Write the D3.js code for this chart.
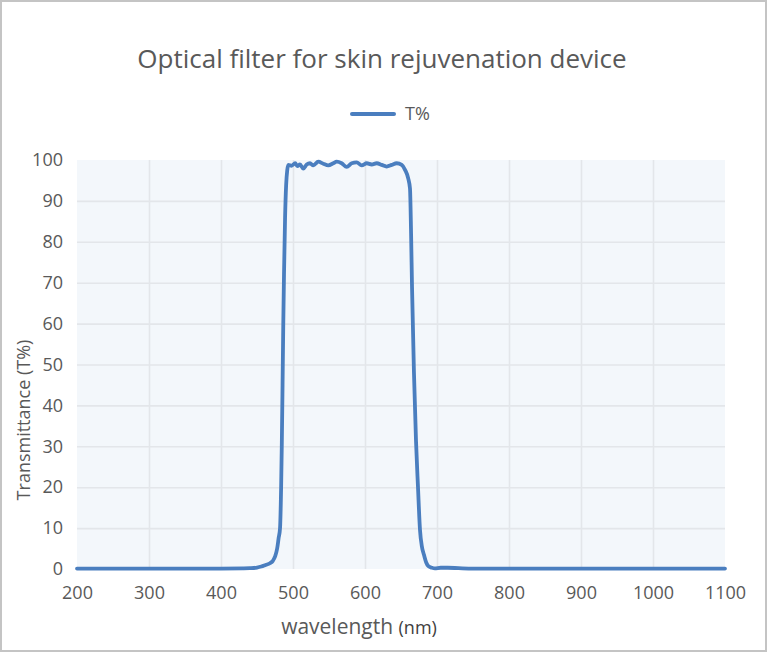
<!DOCTYPE html>
<html>
<head>
<meta charset="utf-8">
<script src="https://cdn.jsdelivr.net/npm/d3@7"></script>
<style>
html,body{margin:0;padding:0;background:#fff;}
svg{display:block;}
text{font-family:"Open Sans","Noto Sans",sans-serif;}
</style>
</head>
<body>
<svg id="chart" width="767" height="652"></svg>
<script>
const wavelength = [200,300,400,430,440,450,456,462,468,472,475,478,480,482,483.5,484.5,485.5,486.5,487.5,489,490.5,492,493.5,
  498,503,506,509.7,514.3,519,523.6,528.2,535.1,542.1,549,556,560.7,567.6,574.6,581.5,588.5,595.4,602.4,609.3,616.3,623.2,630.1,637.1,644,651,655.6,
  660,662.5,664,665.3,668,670.8,673.6,676.4,679,682,685,688,693,697,705,715,730,750,800,900,1000,1100];
const transmittance = [0.1,0.1,0.1,0.15,0.2,0.35,0.6,1.0,1.4,2.0,3.0,5.0,7.5,10,20,31,45,60,72,86,94,97.5,98.8,
  98.6,99.2,98.5,98.9,97.9,98.9,99.2,98.7,99.6,99.1,98.7,99.2,99.6,99.2,98.3,99.2,99.4,98.7,99.2,98.9,99.2,98.8,98.4,98.8,99.2,98.8,97.6,
  95.5,93,82,69,48,31.5,20,9.5,5.5,3.4,1.6,0.7,0.3,0.15,0.3,0.3,0.2,0.1,0.1,0.1,0.1,0.1];
const xTicks = [200,300,400,500,600,700,800,900,1000,1100];
const yTicks = [0,10,20,30,40,50,60,70,80,90,100];

const svg = d3.select("#chart");
const W = 767, H = 652;
const m = {left:77, right:42, top:160, bottom:83};
const x = d3.scaleLinear().domain([200,1100]).range([m.left, W - m.right]);
const y = d3.scaleLinear().domain([0,100]).range([H - m.bottom, m.top]);

// outer border
svg.append("rect").attr("x",1).attr("y",1).attr("width",W-2).attr("height",H-2)
  .attr("fill","#fff").attr("stroke","#c4c4c4").attr("stroke-width",2);

// plot background
svg.append("rect").attr("x",x(200)).attr("y",y(100)).attr("width",x(1100)-x(200)).attr("height",y(0)-y(100))
  .attr("fill","#f3f7fb");

// grid
const grid = svg.append("g");
grid.append("g").attr("transform",`translate(0,${y(0)})`)
  .call(d3.axisBottom(x).tickValues(xTicks.slice(1,-1)).tickSize(-(y(0)-y(100))).tickFormat(""))
  .call(g=>g.select(".domain").remove())
  .call(g=>g.selectAll("line").attr("stroke","#e3e6ea").attr("stroke-width",1.6));
grid.append("g").attr("transform",`translate(${x(200)},0)`)
  .call(d3.axisLeft(y).tickValues(yTicks.slice(1,-1)).tickSize(-(x(1100)-x(200))).tickFormat(""))
  .call(g=>g.select(".domain").remove())
  .call(g=>g.selectAll("line").attr("stroke","#e3e6ea").attr("stroke-width",1.6));

// axes labels
const xa = svg.append("g").attr("transform",`translate(0,${y(0)})`)
  .call(d3.axisBottom(x).tickValues(xTicks).tickSize(0).tickPadding(17).tickFormat(d3.format("d")));
xa.select(".domain").remove();
xa.selectAll("text").attr("fill","#595959").attr("font-size",18).attr("font-family","'Open Sans',sans-serif");

const ya = svg.append("g").attr("transform",`translate(${x(200)},0)`)
  .call(d3.axisLeft(y).tickValues(yTicks).tickSize(0).tickPadding(14).tickFormat(d3.format("d")));
ya.select(".domain").remove();
ya.selectAll("text").attr("fill","#595959").attr("font-size",18).attr("font-family","'Open Sans',sans-serif");

// line
const line = d3.line().x((d,i)=>x(wavelength[i])).y(d=>y(d)).curve(d3.curveMonotoneX);
svg.append("path").datum(transmittance).attr("d",line)
  .attr("fill","none").attr("stroke","#4a7ebf").attr("stroke-width",3.8)
  .attr("stroke-linejoin","round").attr("stroke-linecap","round");

// title
svg.append("text").attr("x",382).attr("y",68).attr("text-anchor","middle")
  .attr("font-size",26).attr("fill","#595959").text("Optical filter for skin rejuvenation device");

// legend
svg.append("line").attr("x1",352).attr("x2",394).attr("y1",114).attr("y2",114)
  .attr("stroke","#4a7ebf").attr("stroke-width",4).attr("stroke-linecap","round");
svg.append("text").attr("x",405).attr("y",120).attr("font-size",18).attr("fill","#595959").text("T%");

// axis titles
const xt = svg.append("text").attr("x",359).attr("y",634).attr("text-anchor","middle").attr("fill","#595959");
xt.append("tspan").attr("font-size",21).text("wavelength ");
xt.append("tspan").attr("font-size",18).attr("fill","#404040").text("(nm)");

svg.append("text").attr("transform",`translate(30,420) rotate(-90)`)
  .attr("text-anchor","middle").attr("font-size",18).attr("fill","#595959").text("Transmittance (T%)");
</script>
</body>
</html>
